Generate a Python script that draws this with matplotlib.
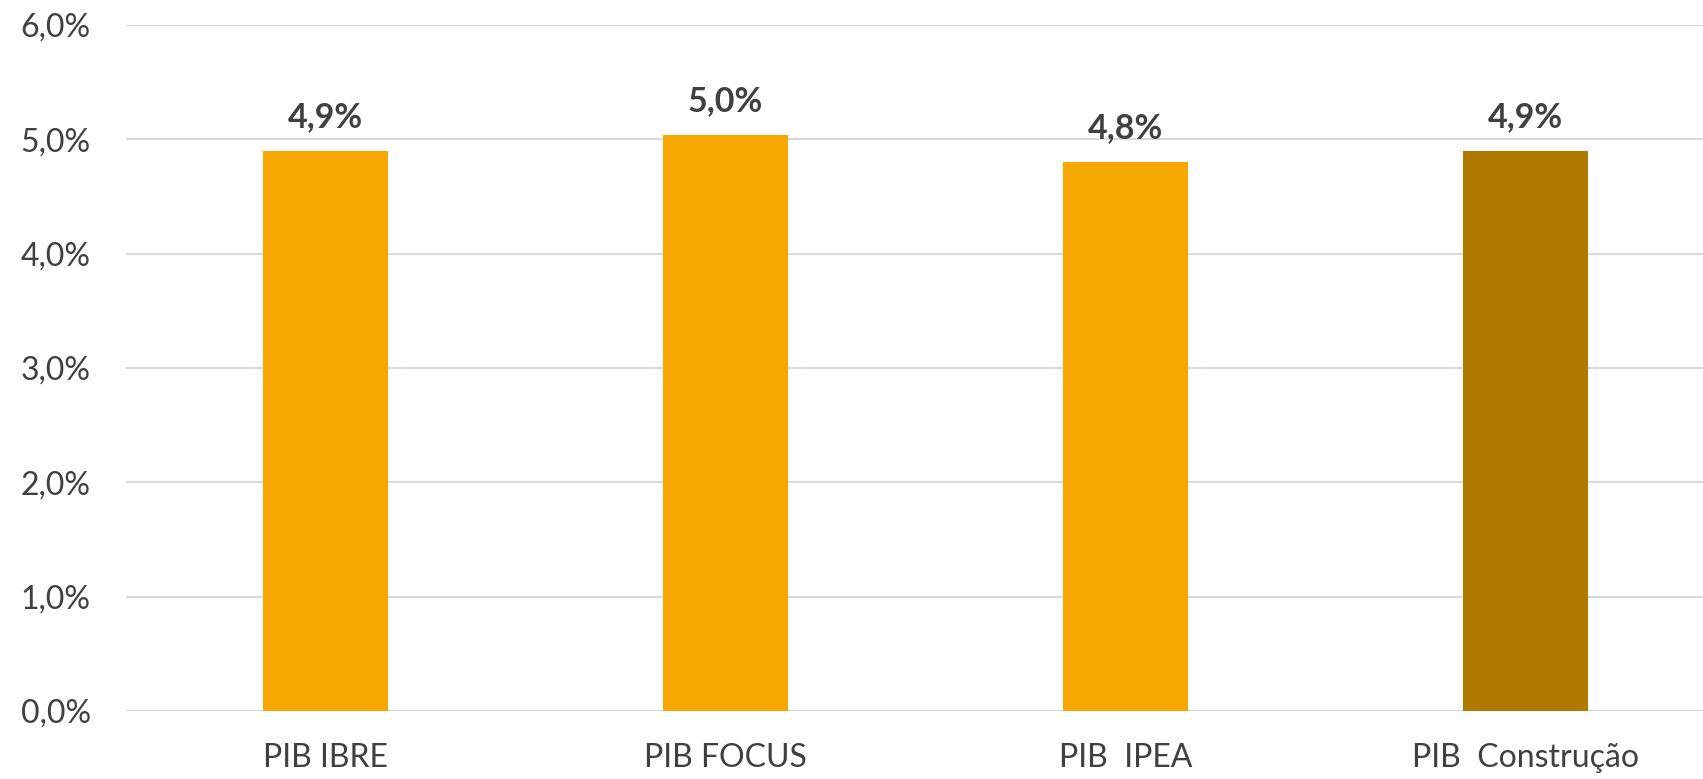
import matplotlib.pyplot as plt
from matplotlib.ticker import FuncFormatter

categories = ['PIB IBRE', 'PIB FOCUS', 'PIB  IPEA', 'PIB  Construção']
values = [4.9, 5.04, 4.8, 4.9]
labels = ['4,9%', '5,0%', '4,8%', '4,9%']
colors = ['#F6A800', '#F6A800', '#F6A800', '#B07800']

plt.rcParams['font.family'] = ['Lato', 'DejaVu Sans']
text_color = '#404040'

fig = plt.figure(figsize=(17.03, 7.79), dpi=100)
ax = fig.add_axes([125.5 / 1703, 68 / 779, 1600 / 1703, 686 / 779])

x = list(range(len(categories)))
bars = ax.bar(x, values, width=0.3125, color=colors, zorder=3)

for b, lab in zip(bars, labels):
    ax.annotate(lab, (b.get_x() + b.get_width() / 2, b.get_height()),
                xytext=(0, 13), textcoords='offset points',
                ha='center', va='bottom', fontsize=24.5, fontweight='bold',
                color=text_color)

ax.set_xlim(-0.5, 3.5)
ax.set_ylim(0, 6)
ax.set_yticks([0, 1, 2, 3, 4, 5, 6])
ax.yaxis.set_major_formatter(FuncFormatter(lambda v, p: f'{v:.1f}%'.replace('.', ',')))
ax.set_xticks(x)
ax.set_xticklabels(categories)

ax.grid(axis='y', color='#d9d9d9', linewidth=1.5, zorder=0)
for s in ax.spines.values():
    s.set_visible(False)
ax.tick_params(axis='both', length=0, labelsize=23, labelcolor=text_color)
ax.tick_params(axis='y', pad=25)
ax.tick_params(axis='x', pad=23)

fig.savefig('out.png', dpi=100)
